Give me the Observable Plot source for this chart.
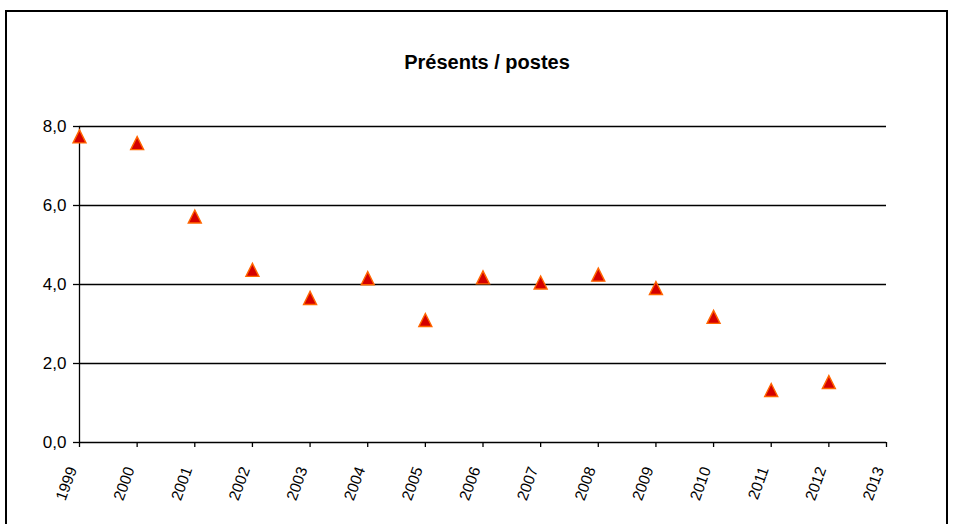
<!DOCTYPE html>
<html>
<head>
<meta charset="utf-8">
<script src="https://cdn.jsdelivr.net/npm/d3@7"></script>
<script src="https://cdn.jsdelivr.net/npm/@observablehq/plot@0.6"></script>
<style>
  html, body { margin: 0; padding: 0; background: #fff; }
  #wrap { position: relative; width: 953px; height: 524px; overflow: hidden; font-family: "Liberation Sans", Arial, sans-serif; }
  #frame { position: absolute; left: 5px; top: 10px; width: 943px; height: 600px; border: 2px solid #000; box-sizing: border-box; pointer-events: none; }
  #chart { position: absolute; left: 0; top: 0; }
</style>
</head>
<body>
<div id="wrap"><div id="chart"></div><div id="frame"></div></div>
<script>
const title = "Présents / postes";
const years = [1999, 2000, 2001, 2002, 2003, 2004, 2005, 2006, 2007, 2008, 2009, 2010, 2011, 2012];
const values = [7.75, 7.58, 5.72, 4.37, 3.66, 4.16, 3.10, 4.18, 4.05, 4.25, 3.91, 3.18, 1.33, 1.53];
const xTicks = [1999, 2000, 2001, 2002, 2003, 2004, 2005, 2006, 2007, 2008, 2009, 2010, 2011, 2012, 2013];
const yTicks = [0, 2, 4, 6, 8];

const data = years.map((y, i) => ({year: y, value: values[i]}));

const excelTriangle = {
  draw(context, size) {
    const r = Math.sqrt(size / Math.PI);
    context.moveTo(0, -r);
    context.lineTo(r, r);
    context.lineTo(-r, r);
    context.closePath();
  }
};

const fmt = d => d.toFixed(1).replace(".", ",");

const chart = Plot.plot({
  width: 953,
  height: 524,
  marginLeft: 79,
  marginRight: 67,
  marginTop: 126,
  marginBottom: 82,
  style: {fontFamily: "'Liberation Sans', Arial, sans-serif", background: "transparent", color: "#000"},
  x: {type: "linear", domain: [1999, 2013]},
  y: {domain: [0, 8]},
  marks: [
    Plot.ruleY(yTicks, {stroke: "#000", strokeWidth: 1.3, strokeOpacity: 1}),
    Plot.ruleX([1999], {y1: 0, y2: 8, stroke: "#000", strokeWidth: 1.3}),
    Plot.axisY({ticks: yTicks, tickFormat: fmt, tickSize: 6, tickPadding: 7, fontSize: 17, strokeWidth: 1.3, label: null}),
    Plot.axisX({ticks: xTicks, tickFormat: d => String(d), tickSize: 5, tickPadding: 14, tickRotate: -70, fontSize: 15.5, strokeWidth: 1.3, label: null, textStroke: null}),
    Plot.dot(data, {x: "year", y: "value", symbol: excelTriangle, r: 6.5, fill: "#d40000", stroke: "#ff6600", strokeWidth: 1.4}),
    Plot.text([title], {frameAnchor: "top", dx: 4, dy: -72, fontSize: 20, fontWeight: "bold", fill: "#000"})
  ]
});
// nudge the rotated year labels so their ends sit just left of the ticks, as in the reference
chart.querySelectorAll('[aria-label="x-axis tick label"]').forEach(g => {
  const t = g.getAttribute("transform") || "";
  g.setAttribute("transform", `translate(-7,6) ${t}`);
});
document.getElementById("chart").appendChild(chart);
</script>
</body>
</html>
